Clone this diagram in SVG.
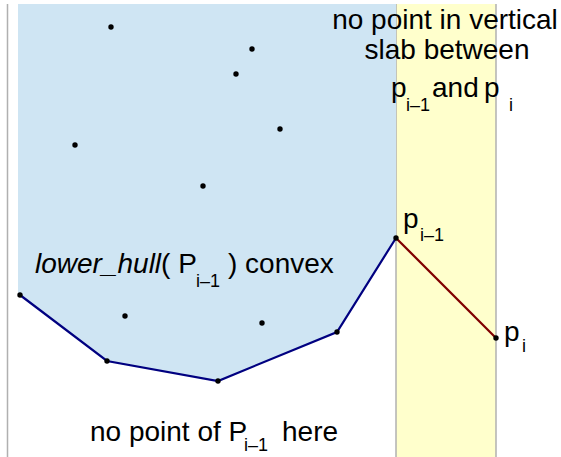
<svg xmlns="http://www.w3.org/2000/svg" width="561" height="457" viewBox="0 0 561 457">
<style>
text{font-family:"Liberation Sans",Arial,sans-serif;font-size:28px;fill:#000}
.sub{font-size:18px}
.pt{fill:#000}
.frame{stroke:#b0b0b0;stroke-width:1.5;fill:none}
</style>
<rect x="0" y="0" width="561" height="457" fill="#fff"/>
<g id="slab">
<rect x="396" y="4" width="100" height="453" fill="#ffffcc"/>
<line class="frame" x1="396" y1="4" x2="396" y2="457"/>
<line class="frame" x1="496" y1="4" x2="496" y2="457"/>
</g>
<g id="hull-region">
<polygon points="18,4 396,4 396,238 337,332 218,381 107,361 20,295 18,295" fill="#cfe5f3"/>
</g>
<line class="frame" x1="7.5" y1="4" x2="7.5" y2="457"/>
<g id="connectors">
<polyline points="20,295 107,361 218,381 337,332 396,238" fill="none" stroke="#000080" stroke-width="2.2"/>
<line x1="396" y1="238" x2="496" y2="338" stroke="#800000" stroke-width="2.2"/>
</g>
<g id="points">
<circle class="pt" cx="20" cy="295" r="2.7"/>
<circle class="pt" cx="107" cy="361" r="2.7"/>
<circle class="pt" cx="218" cy="381" r="2.7"/>
<circle class="pt" cx="337" cy="332" r="2.7"/>
<circle class="pt" cx="396" cy="238" r="2.7"/>
<circle class="pt" cx="496" cy="338" r="2.7"/>
<circle class="pt" cx="111" cy="27" r="2.7"/>
<circle class="pt" cx="252" cy="49" r="2.7"/>
<circle class="pt" cx="236" cy="74" r="2.7"/>
<circle class="pt" cx="280" cy="129" r="2.7"/>
<circle class="pt" cx="75" cy="145" r="2.7"/>
<circle class="pt" cx="203" cy="186" r="2.7"/>
<circle class="pt" cx="125" cy="316" r="2.7"/>
<circle class="pt" cx="262" cy="323" r="2.7"/>
</g>
<g id="label-slab">
<text x="445" y="29" text-anchor="middle">no point in vertical</text>
<text x="447" y="59" text-anchor="middle">slab between</text>
<text x="391" y="97">p</text><text class="sub" x="406" y="111">i–1</text>
<text x="432" y="97">and</text>
<text x="484" y="97">p</text><text class="sub" x="509" y="111">i</text>
</g>
<g id="label-hull">
<text x="35" y="273"><tspan font-style="italic">lower_hull</tspan>( P</text>
<text class="sub" x="196" y="287">i–1</text>
<text x="228" y="273">) convex</text>
</g>
<g id="label-pi1">
<text x="403" y="228">p</text><text class="sub" x="420" y="241">i–1</text>
</g>
<g id="label-pi">
<text x="504" y="341">p</text><text class="sub" x="522" y="352">i</text>
</g>
<g id="label-bottom">
<text x="90" y="441">no point of P</text>
<text class="sub" x="244" y="451">i–1</text>
<text x="282" y="441">here</text>
</g>
</svg>
